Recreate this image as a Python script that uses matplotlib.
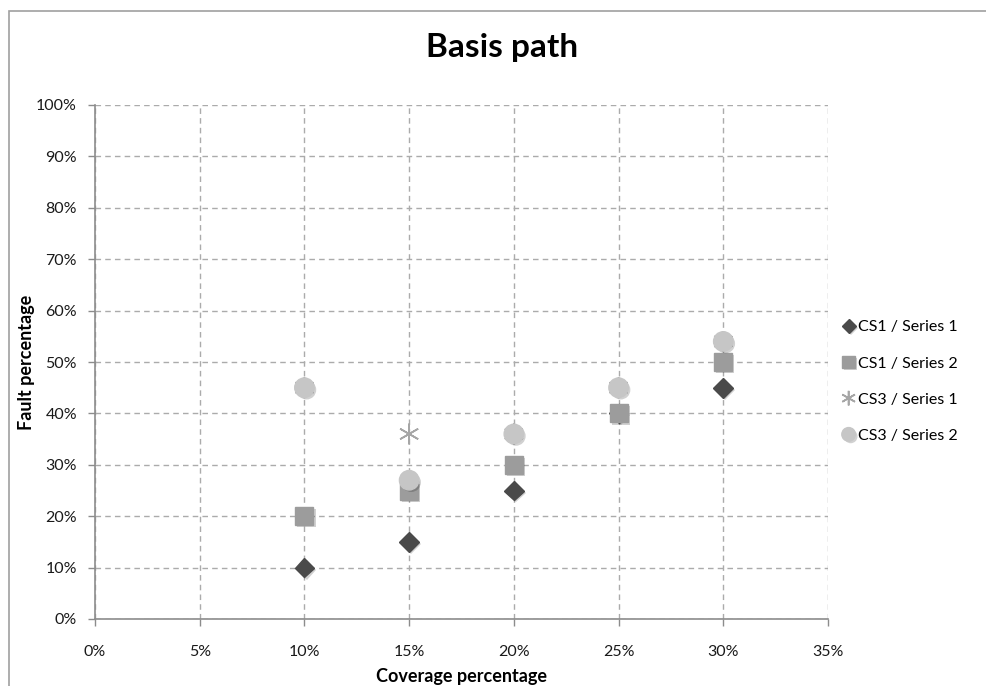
import matplotlib
matplotlib.use("Agg")
import matplotlib.pyplot as plt
import matplotlib.patheffects as pe
from matplotlib.patches import Rectangle
from matplotlib.ticker import PercentFormatter

coverage = [10, 15, 20, 25, 30]
cs1_series1 = [10, 15, 25, 40, 45]
cs1_series2 = [20, 25, 30, 40, 50]
cs3_series1 = [45, 36, 36, 45, 54]
cs3_series2 = [45, 27, 36, 45, 54]
x_ticks = [0, 5, 10, 15, 20, 25, 30, 35]
y_ticks = [0, 10, 20, 30, 40, 50, 60, 70, 80, 90, 100]

plt.rcParams['font.family'] = ['Lato', 'DejaVu Sans']

fig = plt.figure(figsize=(9.86, 6.86), dpi=100)
fig.patch.set_facecolor('white')

# chart frame, runs off the right and bottom edges
fig.patches.append(Rectangle((9 / 986, -0.1), 1.2, 1.1 - 11 / 686,
                             transform=fig.transFigure, fill=False,
                             edgecolor='#a0a0a0', linewidth=1.2))

ax = fig.add_axes([95 / 986, 1 - 619 / 686, (828 - 95) / 986, (619 - 105) / 686])

shadow = [pe.SimplePatchShadow(offset=(1.5, -1.5), shadow_rgbFace='#000000', alpha=0.18), pe.Normal()]

series = [
    ('CS1 / Series 1', cs1_series1, dict(marker='D', markersize=10, color='#4a4a4a')),
    ('CS1 / Series 2', cs1_series2, dict(marker='s', markersize=13, color='#9c9c9c')),
    ('CS3 / Series 1', cs3_series1, dict(marker=(6, 2, 0), markersize=15, color='#a6a6a6', markeredgewidth=1.2)),
    ('CS3 / Series 2', cs3_series2, dict(marker='o', markersize=14, color='#c6c6c6')),
]
for label, vals, style in series:
    ax.plot(coverage, vals, linestyle='none', label=label, path_effects=shadow,
            clip_on=False, **style)

ax.set_xlim(0, 35)
ax.set_ylim(0, 100)
ax.set_xticks(x_ticks)
ax.set_yticks(y_ticks)
ax.xaxis.set_major_formatter(PercentFormatter(decimals=0))
ax.yaxis.set_major_formatter(PercentFormatter(decimals=0))
ax.tick_params(axis='both', direction='out', length=5, width=1, color='#8c8c8c',
               labelsize=11.5, labelcolor='#1a1a1a')
ax.tick_params(axis='x', pad=14)
ax.tick_params(axis='y', pad=8)

ax.grid(True, linestyle=(0, (4, 3)), color='#ababab', linewidth=1)
ax.set_axisbelow(True)
for side in ['top', 'right']:
    ax.spines[side].set_visible(False)
for side in ['left', 'bottom']:
    ax.spines[side].set_color('#8c8c8c')
    ax.spines[side].set_linewidth(1.2)

ax.set_xlabel('Coverage percentage', fontsize=13, fontweight='bold', labelpad=6)
ax.set_ylabel('Fault percentage', fontsize=13, fontweight='bold')
ax.yaxis.set_label_coords(-0.082, 0.5)
fig.text(502 / 986, 1 - 48 / 686, 'Basis path', fontsize=24, fontweight='bold',
         ha='center', va='center')

leg = ax.legend(loc='center left', bbox_to_anchor=(1.002, 0.462), frameon=False,
                fontsize=11.5, labelspacing=1.38, handlelength=0.6, handletextpad=0.3,
                markerscale=0.7)

fig.savefig('out.png', dpi=100, facecolor='white')
